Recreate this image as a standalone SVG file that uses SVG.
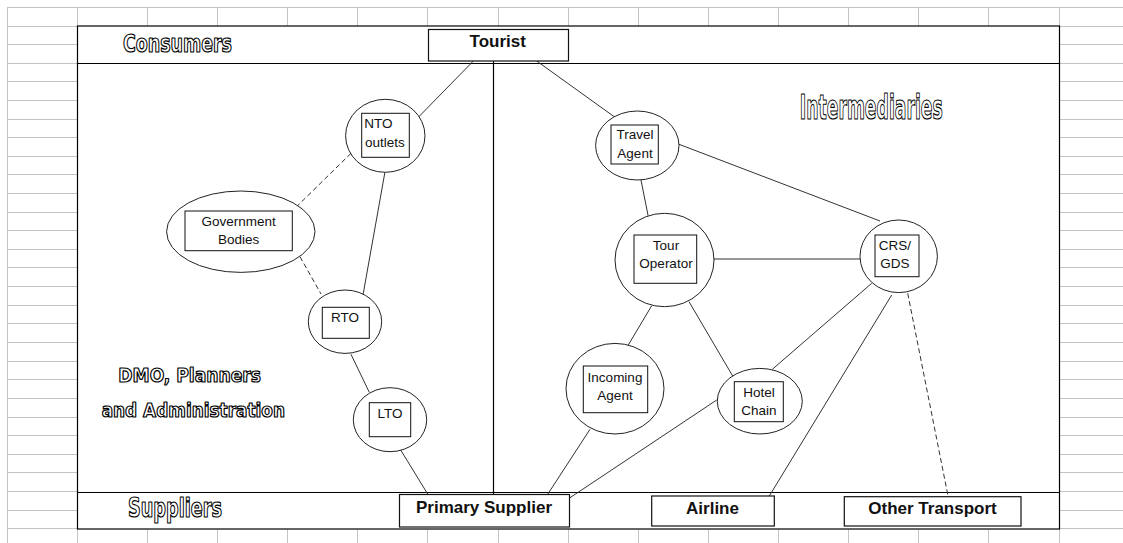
<svg xmlns="http://www.w3.org/2000/svg" width="1123" height="543" viewBox="0 0 1123 543">
<style>
.grid{stroke:#c4c4c4;stroke-width:1;fill:none}
.frame{fill:#fff;stroke:#000;stroke-width:1.2}
.sep{stroke:#000;stroke-width:1.2;fill:none}
.ell{fill:#fff;stroke:#222;stroke-width:1}
.box{fill:#fff;stroke:#111;stroke-width:1}
.bbox{fill:#fff;stroke:#111;stroke-width:1.2}
.lbl{font-family:"Liberation Sans",Arial,sans-serif;font-size:13.5px;fill:#111;text-anchor:middle}
.blbl{font-family:"Liberation Sans",Arial,sans-serif;font-size:17px;font-weight:bold;fill:#111;text-anchor:middle}
.out{font-family:"DejaVu Sans Condensed","DejaVu Sans",sans-serif;font-weight:bold;fill:#fff;stroke:#000;stroke-width:1.2;stroke-linejoin:round;text-anchor:middle}
.con line{stroke:#333;stroke-width:1}
.con .dash{stroke-dasharray:5,3}
</style>
<rect width="1123" height="543" fill="#fff"/>
<g id="grid" class="grid">
<path d="M0 7.5H1123M0 26.5H1123M0 44.5H1123M0 63.5H1123M0 81.5H1123M0 100.5H1123M0 119.5H1123M0 137.5H1123M0 156.5H1123M0 174.5H1123M0 193.5H1123M0 212.5H1123M0 230.5H1123M0 249.5H1123M0 267.5H1123M0 286.5H1123M0 305.5H1123M0 323.5H1123M0 342.5H1123M0 361.5H1123M0 379.5H1123M0 398.5H1123M0 417.5H1123M0 435.5H1123M0 454.5H1123M0 472.5H1123M0 491.5H1123M0 510.5H1123M0 528.5H1123"/>
<path d="M7.5 7V543M77.5 7V543M147.5 7V543M217.5 7V543M287.5 7V543M357.5 7V543M427.5 7V543M498.5 7V543M568.5 7V543M638.5 7V543M708.5 7V543M778.5 7V543M848.5 7V543M918.5 7V543M988.5 7V543M1059.5 7V543"/>
<rect x="0" y="0" width="1123" height="7" fill="#fff" stroke="none"/>
<rect x="0" y="0" width="7" height="543" fill="#fff" stroke="none"/>
</g>
<g id="frame">
<rect class="frame" x="77.5" y="26" width="982" height="503"/>
<line class="sep" x1="77.5" y1="63.5" x2="1059.5" y2="63.5"/>
<line class="sep" x1="77.5" y1="492.5" x2="1059.5" y2="492.5"/>
<line class="sep" x1="493.5" y1="61" x2="493.5" y2="494"/>
</g>
<g id="section-labels">
<text class="out" x="177.5" y="52" font-size="24" textLength="109" lengthAdjust="spacingAndGlyphs">Consumers</text>
<text class="out" x="871.3" y="119" font-size="34" textLength="143" lengthAdjust="spacingAndGlyphs">Intermediaries</text>
<text class="out" x="189.7" y="381.7" font-size="20" textLength="142.7" lengthAdjust="spacingAndGlyphs">DMO, Planners</text>
<text class="out" x="193.3" y="416.7" font-size="20" textLength="183.3" lengthAdjust="spacingAndGlyphs">and Administration</text>
<text class="out" x="175" y="516.7" font-size="26" textLength="94" lengthAdjust="spacingAndGlyphs">Suppliers</text>
</g>
<g id="connectors" class="con">
<line x1="473.3" y1="61" x2="418.3" y2="117.3"/>
<line x1="536.7" y1="61" x2="615" y2="117.3"/>
<line class="dash" x1="351" y1="153.3" x2="297.3" y2="206"/>
<line class="dash" x1="300" y1="256.7" x2="321" y2="294"/>
<line x1="385" y1="171.7" x2="362.7" y2="296.7"/>
<line x1="351" y1="354.3" x2="369.3" y2="392.3"/>
<line x1="400.7" y1="450" x2="428.3" y2="495"/>
<line x1="679" y1="144.3" x2="880" y2="221"/>
<line x1="641" y1="180" x2="648.3" y2="216.7"/>
<line x1="714" y1="259" x2="860" y2="259"/>
<line x1="651.7" y1="305.7" x2="628.3" y2="345"/>
<line x1="689" y1="301.7" x2="732.7" y2="376"/>
<line x1="871.7" y1="283.3" x2="772.3" y2="369.3"/>
<line x1="891.7" y1="295" x2="769.3" y2="496"/>
<line class="dash" x1="907.7" y1="293.3" x2="948.3" y2="497.3"/>
<line x1="590" y1="429.3" x2="547.7" y2="494.3"/>
<line x1="716.7" y1="400" x2="570" y2="497.7"/>
</g>
<g id="tourist">
<rect class="bbox" x="428.5" y="29.5" width="140" height="31.5"/>
<text class="blbl" x="497.7" y="47">Tourist</text>
</g>
<g id="nto-outlets">
<ellipse class="ell" cx="385.3" cy="135.8" rx="39.7" ry="36.5"/>
<rect class="box" x="361.7" y="113.3" width="47.6" height="44"/>
<text class="lbl" x="364.3" y="128.3" style="text-anchor:start">NTO</text>
<text class="lbl" x="365" y="146.7" style="text-anchor:start">outlets</text>
</g>
<g id="government-bodies">
<ellipse class="ell" cx="240.8" cy="231.7" rx="74.2" ry="40.7"/>
<rect class="box" x="185" y="211" width="107.3" height="39.7"/>
<text class="lbl" x="238.7" y="225.7">Government</text>
<text class="lbl" x="238.7" y="244">Bodies</text>
</g>
<g id="rto">
<ellipse class="ell" cx="345" cy="321.7" rx="36.7" ry="31.7"/>
<rect class="box" x="322.3" y="307.3" width="47" height="31"/>
<text class="lbl" x="345" y="322.3">RTO</text>
</g>
<g id="lto">
<ellipse class="ell" cx="390" cy="419.7" rx="36.7" ry="32"/>
<rect class="box" x="369.3" y="402.7" width="41.4" height="34"/>
<text class="lbl" x="390" y="417.7">LTO</text>
</g>
<g id="travel-agent">
<ellipse class="ell" cx="637.3" cy="145.5" rx="41.7" ry="34.5"/>
<rect class="box" x="611" y="125" width="47.3" height="39"/>
<text class="lbl" x="635" y="139.3">Travel</text>
<text class="lbl" x="635" y="158.3">Agent</text>
</g>
<g id="tour-operator">
<ellipse class="ell" cx="664.5" cy="260" rx="49.5" ry="46.7"/>
<rect class="box" x="634" y="235" width="62.7" height="48.3"/>
<text class="lbl" x="666" y="250">Tour</text>
<text class="lbl" x="666" y="268.3">Operator</text>
</g>
<g id="crs-gds">
<ellipse class="ell" cx="898.7" cy="256.3" rx="38.7" ry="36.3"/>
<rect class="box" x="875" y="235" width="44" height="41.7"/>
<text class="lbl" x="895" y="250">CRS/</text>
<text class="lbl" x="895" y="268.3">GDS</text>
</g>
<g id="incoming-agent">
<ellipse class="ell" cx="615" cy="388.7" rx="49" ry="45.3"/>
<rect class="box" x="583.3" y="366" width="64.4" height="46.7"/>
<text class="lbl" x="615" y="381.7">Incoming</text>
<text class="lbl" x="615" y="400">Agent</text>
</g>
<g id="hotel-chain">
<ellipse class="ell" cx="759.8" cy="401.2" rx="42.5" ry="32.8"/>
<rect class="box" x="734.3" y="381.7" width="49" height="40"/>
<text class="lbl" x="759" y="396.7">Hotel</text>
<text class="lbl" x="759" y="415">Chain</text>
</g>
<g id="primary-supplier">
<rect class="bbox" x="399.5" y="494.5" width="170" height="32.5"/>
<text class="blbl" x="484" y="512.5">Primary Supplier</text>
</g>
<g id="airline">
<rect class="bbox" x="651.7" y="496" width="122.6" height="30"/>
<text class="blbl" x="712.5" y="513.5">Airline</text>
</g>
<g id="other-transport">
<rect class="bbox" x="844.3" y="496.7" width="176.7" height="29.3"/>
<text class="blbl" x="932.5" y="514">Other Transport</text>
</g>
</svg>
